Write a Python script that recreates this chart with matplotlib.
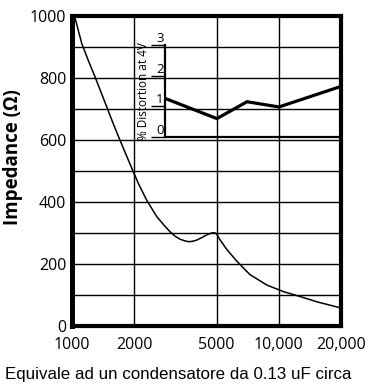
import matplotlib
matplotlib.use("Agg")
import matplotlib.pyplot as plt
from matplotlib.ticker import FixedLocator, NullLocator

# Main curve: impedance vs frequency
freq = [1000, 1034, 1114, 1200, 1292, 1380, 1472, 1580, 1693, 1820, 1957,
        2100, 2297, 2569, 2780, 2979, 3150, 3327, 3500, 3651, 3820, 4006,
        4240, 4488, 4680, 4829, 4920, 5006, 5200, 5605, 6270, 7246, 8764,
        10520, 12690, 15300, 17500, 20000]
impedance = [1000, 994, 912, 856, 804, 755, 707, 654, 605, 555, 505,
             458, 406, 353, 326, 304, 290, 280, 275, 272, 273, 277,
             285, 294, 299, 301, 300, 297, 278, 247, 209, 166, 132,
             111, 95, 78, 68, 58]

x_ticks = [1000, 2000, 5000, 10000, 20000]
x_tick_labels = ["1000", "2000", "5000", "10,000", "20,000"]
y_ticks = [0, 200, 400, 600, 800, 1000]
y_tick_labels = ["0", "200", "400", "600", "800", "1000"]
y_grid = [100, 200, 300, 400, 500, 600, 700, 800, 900]
x_grid = [2000, 5000, 10000]

# Inset: distortion
dist_freq = [2800, 5000, 7000, 10000, 20000]
distortion = [1.26, 0.6, 1.15, 0.98, 1.65]
dist_ticks = [0, 1, 2, 3]

FONT = "Open Sans"

fig = plt.figure(figsize=(3.76, 3.88), dpi=100)
ax = fig.add_axes([72/376, 62/388, 269/376, 310/388])
ax.set_xscale("log")
ax.set_xlim(1000, 20000)
ax.set_ylim(0, 1000)

for g in y_grid:
    ax.axhline(g, color="black", lw=1.0, zorder=1)
for g in x_grid:
    ax.axvline(g, color="black", lw=1.0, zorder=1)

ax.plot(freq, impedance, color="black", lw=1.1, zorder=3)

ax.xaxis.set_major_locator(FixedLocator(x_ticks))
ax.xaxis.set_minor_locator(NullLocator())
ax.set_xticklabels(x_tick_labels, fontsize=11.5, family=FONT)
ax.set_yticks(y_ticks)
ax.set_yticklabels(y_tick_labels, fontsize=11.5, family=FONT)
ax.tick_params(axis="y", length=0, pad=4)
ax.tick_params(axis="x", length=0, pad=8)
for s in ax.spines.values():
    s.set_linewidth(3.0)
ax.spines["left"].set_linewidth(3.6)
ax.set_ylabel("Impedance (Ω)", fontsize=13.5, fontweight="bold", family=FONT)
ax.yaxis.set_label_coords(-0.182, 0.545)

# Inset axes
x0 = 165/376
ax2 = fig.add_axes([x0, (388-137)/388, (341-165)/376, 92/388])
ax2.patch.set_alpha(0)
ax2.set_xscale("log")
ax2.set_xlim(dist_freq[0], 20000)
ax2.set_ylim(0, 3)
ax2.plot(dist_freq, distortion, color="black", lw=2.3, solid_joinstyle="miter")
ax2.xaxis.set_major_locator(NullLocator())
ax2.xaxis.set_minor_locator(NullLocator())
ax2.set_yticks(dist_ticks)
ax2.set_yticklabels([str(t) for t in dist_ticks], fontsize=9.5, family=FONT)
ax2.tick_params(axis="y", length=10, width=1.0, pad=-9)
for lbl in ax2.get_yticklabels():
    lbl.set_va("bottom")
ax2.spines["top"].set_visible(False)
ax2.spines["right"].set_visible(False)
ax2.spines["left"].set_linewidth(1.6)
ax2.spines["bottom"].set_linewidth(1.6)
ax2.set_ylabel("% Distortion at 4V", fontsize=8.5, family=FONT, labelpad=1)

fig.text(5/376, 1 - 374/388, "Equivale ad un condensatore da 0.13 uF circa",
         fontsize=12.2, family="Liberation Sans", va="center", ha="left")

fig.savefig("out.png", dpi=100)
